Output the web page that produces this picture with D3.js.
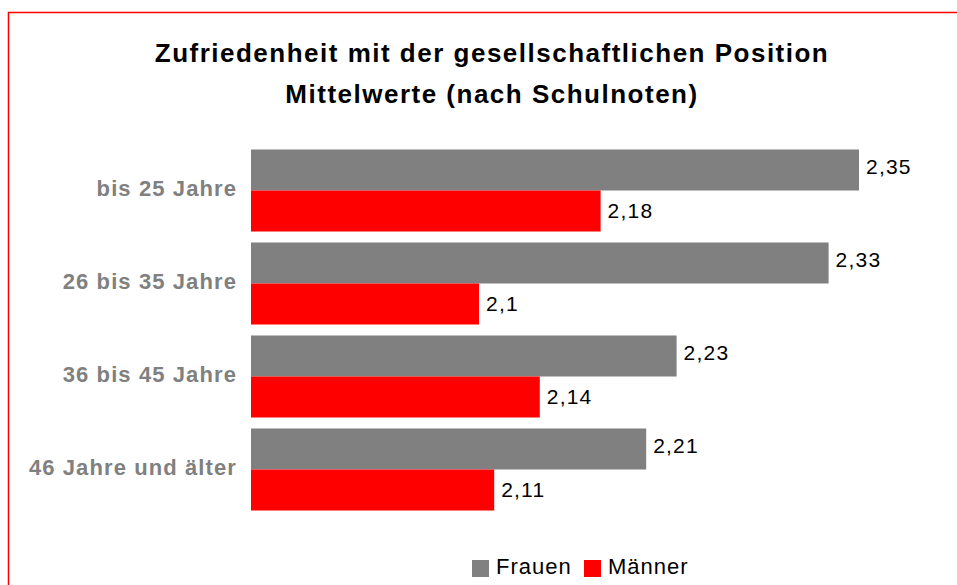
<!DOCTYPE html>
<html lang="de">
<head>
<meta charset="UTF-8">
<title>Zufriedenheit mit der gesellschaftlichen Position</title>
<script src="https://d3js.org/d3.v7.min.js"></script>
<style>
    body { margin: 0; background: #fff; }
    svg { display: block; font-family: "Liberation Sans", Arial, sans-serif; }
</style>
</head>
<body>
<div id="chart"></div>
<script>
    const categories = ["bis 25 Jahre", "26 bis 35 Jahre", "36 bis 45 Jahre", "46 Jahre und älter"];
    const seriesNames = ["Frauen", "Männer"];
    const frauen = [2.35, 2.33, 2.23, 2.21];
    const maenner = [2.18, 2.10, 2.14, 2.11];
    const colors = ["#808080", "#ff0000"];

    const width = 957, height = 585;

    const svg = d3.select("#chart").append("svg")
        .attr("width", width)
        .attr("height", height);

    svg.append("rect")
        .attr("width", width).attr("height", height)
        .attr("fill", "#fff");

    // red frame (right and bottom fall outside the window)
    svg.append("path")
        .attr("d", `M8.5,${height + 2}V12.5H${width + 2}`)
        .attr("fill", "none")
        .attr("stroke", "#ff0000")
        .attr("stroke-width", 1.5);

    const title = svg.append("text")
        .attr("text-anchor", "middle")
        .attr("font-weight", "bold")
        .attr("font-size", 26)
        .attr("letter-spacing", 1.5)
        .attr("fill", "#000");
    title.append("tspan").attr("x", 492).attr("y", 62)
        .text("Zufriedenheit mit der gesellschaftlichen Position");
    title.append("tspan").attr("x", 492).attr("y", 103)
        .text("Mittelwerte (nach Schulnoten)");

    const x = d3.scaleLinear().domain([1.95, 2.4]).range([251, 935]);
    const y = d3.scaleBand().domain(categories).range([144, 516]).paddingInner(0.118).paddingOuter(0.059);
    const ySub = d3.scaleBand().domain(seriesNames).range([0, y.bandwidth()]);

    const rows = categories.map((c, i) => ({ cat: c, vals: [frauen[i], maenner[i]] }));

    const g = svg.append("g");
    const grp = g.selectAll("g.row").data(rows).enter().append("g")
        .attr("class", "row")
        .attr("transform", d => `translate(0,${y(d.cat)})`);

    const bars = grp.selectAll("g.bar")
        .data(d => d.vals.map((v, k) => ({ name: seriesNames[k], v, k })))
        .enter().append("g").attr("class", "bar");

    bars.append("rect")
        .attr("x", x(1.95))
        .attr("y", d => ySub(d.name))
        .attr("width", d => x(d.v) - x(1.95))
        .attr("height", ySub.bandwidth())
        .attr("fill", d => colors[d.k]);

    // labels sit a little above the bar middle
    const labelShift = [-3, -1];
    bars.append("text")
        .attr("x", d => x(d.v) + 7)
        .attr("y", d => ySub(d.name) + ySub.bandwidth() / 2 + 7.5 + labelShift[d.k])
        .attr("font-size", 21)
        .attr("letter-spacing", 1.2)
        .attr("fill", "#000")
        .text(d => String(d.v).replace(".", ","));

    // category axis labels
    svg.append("g").selectAll("text").data(categories).enter().append("text")
        .attr("x", 237)
        .attr("y", d => y(d) + y.bandwidth() / 2 + 5.7)
        .attr("text-anchor", "end")
        .attr("font-weight", "bold")
        .attr("font-size", 22)
        .attr("letter-spacing", 1.1)
        .attr("fill", "#808080")
        .text(d => d);

    // legend
    const legendX = [472, 584];
    const legend = svg.append("g").selectAll("g").data(seriesNames).enter().append("g")
        .attr("transform", (d, i) => `translate(${legendX[i]},560)`);
    legend.append("rect")
        .attr("width", 17).attr("height", 17)
        .attr("fill", (d, i) => colors[i]);
    legend.append("text")
        .attr("x", 24).attr("y", 14.3)
        .attr("font-size", 22)
        .attr("letter-spacing", 1)
        .attr("fill", "#000")
        .text(d => d);
</script>
</body>
</html>
